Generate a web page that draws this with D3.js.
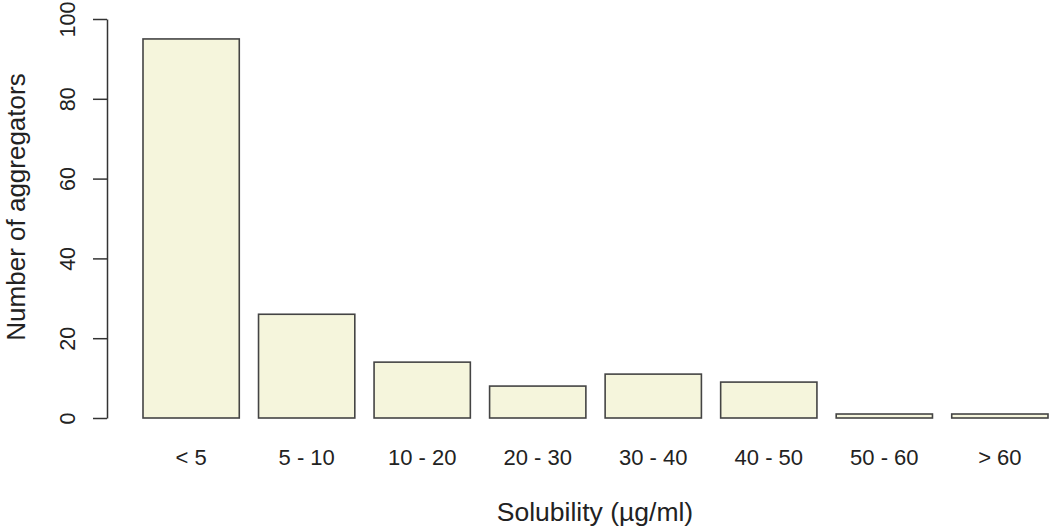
<!DOCTYPE html>
<html>
<head>
<meta charset="utf-8">
<script src="https://cdn.jsdelivr.net/npm/d3@7"></script>
<style>
  body { margin: 0; background: #fff; }
  text { font-family: "Liberation Sans", Arial, sans-serif; fill: #222; }
</style>
</head>
<body>
<div id="chart"></div>
<script>
const categories = ["< 5", "5 - 10", "10 - 20", "20 - 30", "30 - 40", "40 - 50", "50 - 60", "> 60"]
const counts = [95, 26, 14, 8, 11, 9, 1, 1]
const yTicks = [0, 20, 40, 60, 80, 100]

const width = 1050
const height = 528

var svg = d3.select("#chart")
    .append("svg")
        .attr("width", width)
        .attr("height", height)

// R barplot style: width 1, space 0.2
var x = d3.scaleBand()
    .domain(categories)
    .range([143, 1048])
    .paddingInner(0.2 / 1.2)
    .paddingOuter(0)

var y = d3.scaleLinear()
    .domain([0, 100])
    .range([418, 19])

// y axis
var yAxis = svg.append("g")
    .attr("transform", "translate(107,0)")
    .call(d3.axisLeft(y).tickValues(yTicks).tickSize(14).tickSizeOuter(0))
yAxis.select(".domain").attr("stroke", "#333").attr("stroke-width", 1.5)
yAxis.selectAll(".tick line").attr("stroke", "#333").attr("stroke-width", 1.5)
yAxis.selectAll(".tick text")
    .attr("x", 0)
    .attr("dy", 0)
    .attr("transform", "translate(-32,0) rotate(-90)")
    .attr("text-anchor", "middle")
    .style("font-size", "21.5px")
    .style("font-family", "Liberation Sans, Arial, sans-serif")
    .attr("fill", "#222")

// bars
svg.append("g")
    .selectAll("rect")
    .data(counts)
    .join("rect")
        .attr("x", function(d, i) { return x(categories[i]); })
        .attr("y", function(d) { return y(d); })
        .attr("width", x.bandwidth())
        .attr("height", function(d) { return y(0) - y(d); })
        .attr("fill", "#f5f5dc")
        .attr("stroke", "#444")
        .attr("stroke-width", 1.6)

// category labels
svg.append("g")
    .selectAll("text")
    .data(categories)
    .join("text")
        .attr("x", function(d) { return x(d) + x.bandwidth() / 2; })
        .attr("y", 465)
        .attr("text-anchor", "middle")
        .style("font-size", "22px")
        .text(function(d) { return d; })

// axis titles
svg.append("text")
    .attr("x", 595)
    .attr("y", 521)
    .attr("text-anchor", "middle")
    .style("font-size", "26.5px")
    .text("Solubility (\u00b5g/ml)")

svg.append("text")
    .attr("transform", "translate(25,207) rotate(-90)")
    .attr("text-anchor", "middle")
    .style("font-size", "26px")
    .text("Number of aggregators")
</script>
</body>
</html>
